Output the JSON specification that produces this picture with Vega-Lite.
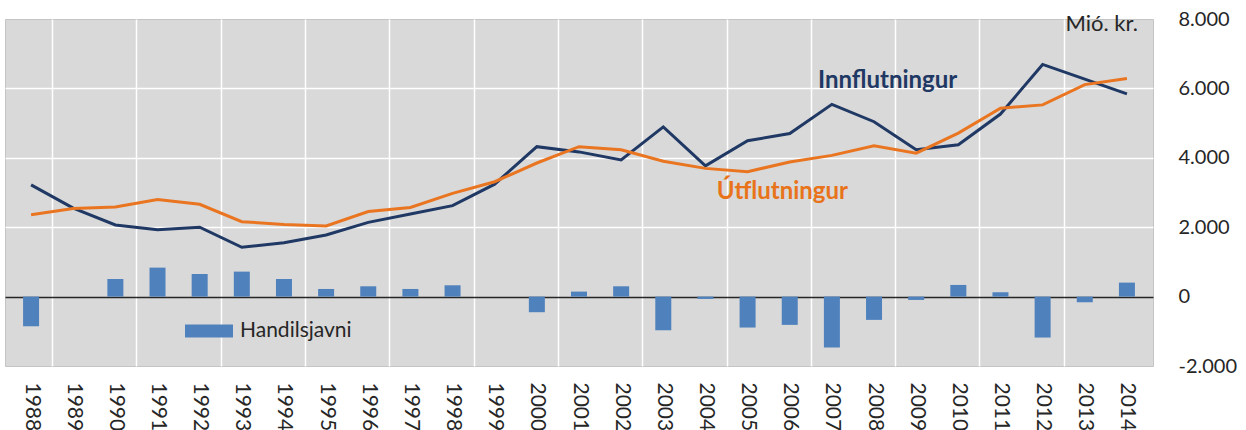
{
  "$schema": "https://vega.github.io/schema/vega-lite/v6.json",
  "width": 1148,
  "height": 347,
  "autosize": "none",
  "padding": {"left": 5, "top": 19, "right": 93, "bottom": 64},
  "background": "white",
  "config": {
    "view": {"fill": "#d9d9d9", "stroke": "#c4c4c4", "strokeWidth": 1},
    "font": "Lato"
  },
  "datasets": {
    "trade": [
      {"year": 1988, "Innflutningur": 3220, "Utflutningur": 2360, "Handilsjavni": -855},
      {"year": 1989, "Innflutningur": 2550, "Utflutningur": 2540, "Handilsjavni": 0},
      {"year": 1990, "Innflutningur": 2063, "Utflutningur": 2580, "Handilsjavni": 508},
      {"year": 1991, "Innflutningur": 1930, "Utflutningur": 2800, "Handilsjavni": 835},
      {"year": 1992, "Innflutningur": 2000, "Utflutningur": 2660, "Handilsjavni": 652},
      {"year": 1993, "Innflutningur": 1420, "Utflutningur": 2160, "Handilsjavni": 720},
      {"year": 1994, "Innflutningur": 1555, "Utflutningur": 2080, "Handilsjavni": 508},
      {"year": 1995, "Innflutningur": 1775, "Utflutningur": 2035, "Handilsjavni": 220},
      {"year": 1996, "Innflutningur": 2140, "Utflutningur": 2450, "Handilsjavni": 297},
      {"year": 1997, "Innflutningur": 2380, "Utflutningur": 2570, "Handilsjavni": 220},
      {"year": 1998, "Innflutningur": 2620, "Utflutningur": 2975, "Handilsjavni": 326},
      {"year": 1999, "Innflutningur": 3240, "Utflutningur": 3310, "Handilsjavni": 0},
      {"year": 2000, "Innflutningur": 4320, "Utflutningur": 3850, "Handilsjavni": -450},
      {"year": 2001, "Innflutningur": 4170, "Utflutningur": 4320, "Handilsjavni": 144},
      {"year": 2002, "Innflutningur": 3940, "Utflutningur": 4230, "Handilsjavni": 297},
      {"year": 2003, "Innflutningur": 4890, "Utflutningur": 3900, "Handilsjavni": -970},
      {"year": 2004, "Innflutningur": 3770, "Utflutningur": 3695, "Handilsjavni": -67},
      {"year": 2005, "Innflutningur": 4490, "Utflutningur": 3600, "Handilsjavni": -892},
      {"year": 2006, "Innflutningur": 4700, "Utflutningur": 3880, "Handilsjavni": -815},
      {"year": 2007, "Innflutningur": 5540, "Utflutningur": 4070, "Handilsjavni": -1468},
      {"year": 2008, "Innflutningur": 5040, "Utflutningur": 4345, "Handilsjavni": -671},
      {"year": 2009, "Innflutningur": 4230, "Utflutningur": 4135, "Handilsjavni": -96},
      {"year": 2010, "Innflutningur": 4375, "Utflutningur": 4710, "Handilsjavni": 336},
      {"year": 2011, "Innflutningur": 5260, "Utflutningur": 5430, "Handilsjavni": 125},
      {"year": 2012, "Innflutningur": 6690, "Utflutningur": 5525, "Handilsjavni": -1180},
      {"year": 2013, "Innflutningur": 6265, "Utflutningur": 6110, "Handilsjavni": -163},
      {"year": 2014, "Innflutningur": 5840, "Utflutningur": 6285, "Handilsjavni": 403}
    ]
  },
  "layer": [
    {
      "data": {"name": "trade"},
      "mark": {"type": "bar", "size": 16, "orient": "vertical"},
      "encoding": {
        "x": {
          "field": "year",
          "type": "quantitative",
          "scale": {"domain": [1987.5, 2014.5], "nice": false, "zero": false},
          "axis": {
            "title": null,
            "orient": "bottom",
            "tickCount": 200,
            "values": [1988, 1988.5, 1989, 1990, 1990.5, 1991, 1992, 1992.5, 1993, 1994, 1994.5, 1995, 1996, 1996.5, 1997, 1998, 1998.5, 1999, 2000, 2000.5, 2001, 2002, 2002.5, 2003, 2004, 2004.5, 2005, 2006, 2006.5, 2007, 2008, 2008.5, 2009, 2010, 2010.5, 2011, 2012, 2012.5, 2013, 2014],
            "labelExpr": "datum.value % 1 == 0 ? format(datum.value, 'd') : ''",
            "labelAngle": 90,
            "labelFont": "Lato",
            "labelFontSize": 21,
            "labelColor": "#262626",
            "labelPadding": 16,
            "labelOverlap": false,
            "labelFlush": false,
            "domain": false,
            "ticks": false,
            "grid": true,
            "gridWidth": 1.5,
            "gridColor": {"condition": {"test": "datum.value % 1 == 0", "value": "transparent"}, "value": "#ffffff"}
          }
        },
        "y": {
          "field": "Handilsjavni",
          "type": "quantitative",
          "scale": {"domain": [-2000, 8000], "nice": false},
          "axis": {
            "title": null,
            "orient": "right",
            "tickCount": 200,
            "values": [-2000, 0, 2000, 4000, 6000, 8000],
            "labelExpr": "replace(replace(format(datum.value, ','), ',', '.'), '\u2212', '-')",
            "labelFont": "Lato",
            "labelFontSize": 20,
            "labelColor": "#262626",
            "labelPadding": 25,
            "domain": false,
            "ticks": false,
            "grid": true,
            "gridWidth": 1.5,
            "gridColor": {"condition": {"test": "datum.value == 0", "value": "#262626"}, "value": "#ffffff"},
            "gridOpacity": {"condition": {"test": "datum.value == 8000 || datum.value == -2000", "value": 0}, "value": 1}
          }
        },
        "color": {
          "datum": "Handilsjavni",
          "type": "nominal",
          "scale": {"range": ["#4f81bd"]},
          "legend": {
            "title": null,
            "orient": "none",
            "legendX": 180,
            "legendY": 288,
            "padding": 0,
            "symbolType": "M-1,-0.27L1,-0.27L1,0.27L-1,0.27Z",
            "symbolSize": 2304,
            "symbolStrokeWidth": 0,
            "labelFont": "Lato",
            "labelFontSize": 21,
            "labelColor": "#262626",
            "labelOffset": 7
          }
        }
      }
    },
    {
      "data": {"name": "trade"},
      "mark": {"type": "line", "color": "#1f3864", "strokeWidth": 3},
      "encoding": {
        "x": {"field": "year", "type": "quantitative"},
        "y": {"field": "Innflutningur", "type": "quantitative"}
      }
    },
    {
      "data": {"name": "trade"},
      "mark": {"type": "line", "color": "#ea7521", "strokeWidth": 3},
      "encoding": {
        "x": {"field": "year", "type": "quantitative"},
        "y": {"field": "Utflutningur", "type": "quantitative"}
      }
    },
    {
      "data": {"values": [{"year": 2006.67, "value": 6210, "label": "Innflutningur"}]},
      "mark": {"type": "text", "align": "left", "baseline": "middle", "font": "Lato", "fontWeight": "bold", "fontSize": 24, "color": "#1f3864"},
      "encoding": {
        "x": {"field": "year", "type": "quantitative"},
        "y": {"field": "value", "type": "quantitative"},
        "text": {"field": "label"}
      }
    },
    {
      "data": {"values": [{"year": 2004.27, "value": 3010, "label": "Útflutningur"}]},
      "mark": {"type": "text", "align": "left", "baseline": "middle", "font": "Lato", "fontWeight": "bold", "fontSize": 24, "color": "#e8731a"},
      "encoding": {
        "x": {"field": "year", "type": "quantitative"},
        "y": {"field": "value", "type": "quantitative"},
        "text": {"field": "label"}
      }
    },
    {
      "data": {"values": [{"year": 2014.26, "value": 7850, "label": "Mió. kr."}]},
      "mark": {"type": "text", "align": "right", "baseline": "middle", "font": "Lato", "fontSize": 22, "color": "#262626"},
      "encoding": {
        "x": {"field": "year", "type": "quantitative"},
        "y": {"field": "value", "type": "quantitative"},
        "text": {"field": "label"}
      }
    }
  ]
}
